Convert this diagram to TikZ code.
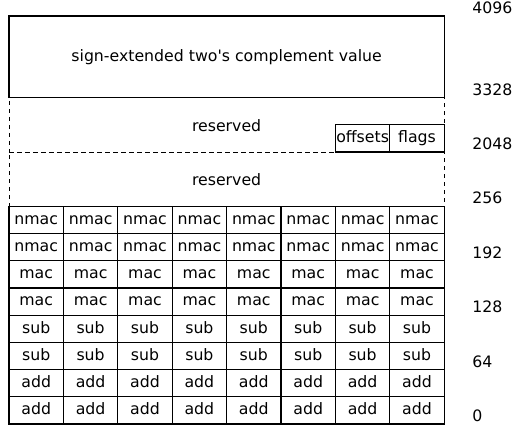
\documentclass[tikz,border=0pt]{standalone}
\usepackage{fontspec}
\setmainfont{DejaVu Sans}
\usetikzlibrary{positioning}
\tikzset{cell/.style = {draw, line width=0.8pt, inner sep=0, minimum width=40.8pt, minimum height=20.4pt, text height=1.6ex, text depth=0.4ex}}
\tikzset{resv/.style = {draw, dashed, line width=0.7pt, inner sep=0, minimum width=326.4pt, minimum height=40.8pt}}
\tikzset{lbl/.style = {anchor=west, inner sep=0}}

\begin{document}
\begin{tikzpicture}[x=40.8pt, y=20.4pt, font=\fontsize{11.8}{14}\selectfont]
    \useasboundingbox (-0.1654, -0.0368) rectangle (9.283, 15.588);

    % instruction slots
    \foreach \r/\op in {0/add, 1/add, 2/sub, 3/sub, 4/mac, 5/mac, 6/nmac, 7/nmac} {
      \foreach \c in {0, ..., 7} {
        \node [cell] (slot-\r-\c) at (\c + 0.5, \r + 0.5) {\op};
      }
    }

    % upper part
    \node [cell, minimum width=326.4pt, minimum height=61.2pt] (value) at (4, 13.5) {sign-extended two\textquotesingle s complement value};
    \node [resv] (resv-hi) at (4, 11) {};
    \node at ([yshift=-1pt]resv-hi.center) (resv-hi-text) {reserved};
    \node [resv] (resv-lo) at (4, 9) {};
    \node at (resv-lo.center) (resv-lo-text) {reserved};
    \node [cell] (offsets) at (6.5, 10.5) {offsets};
    \node [cell] (flags) at (7.5, 10.5) {flags};

    % bit positions
    \foreach \y/\n in {0/0, 2/64, 4/128, 6/192, 8/256, 10/2048, 12/3328, 15/4096} {
      \node [lbl] (pos-\n) at (8.511, \y + 0.3) {\n};
    }
  \end{tikzpicture}
\end{document}
